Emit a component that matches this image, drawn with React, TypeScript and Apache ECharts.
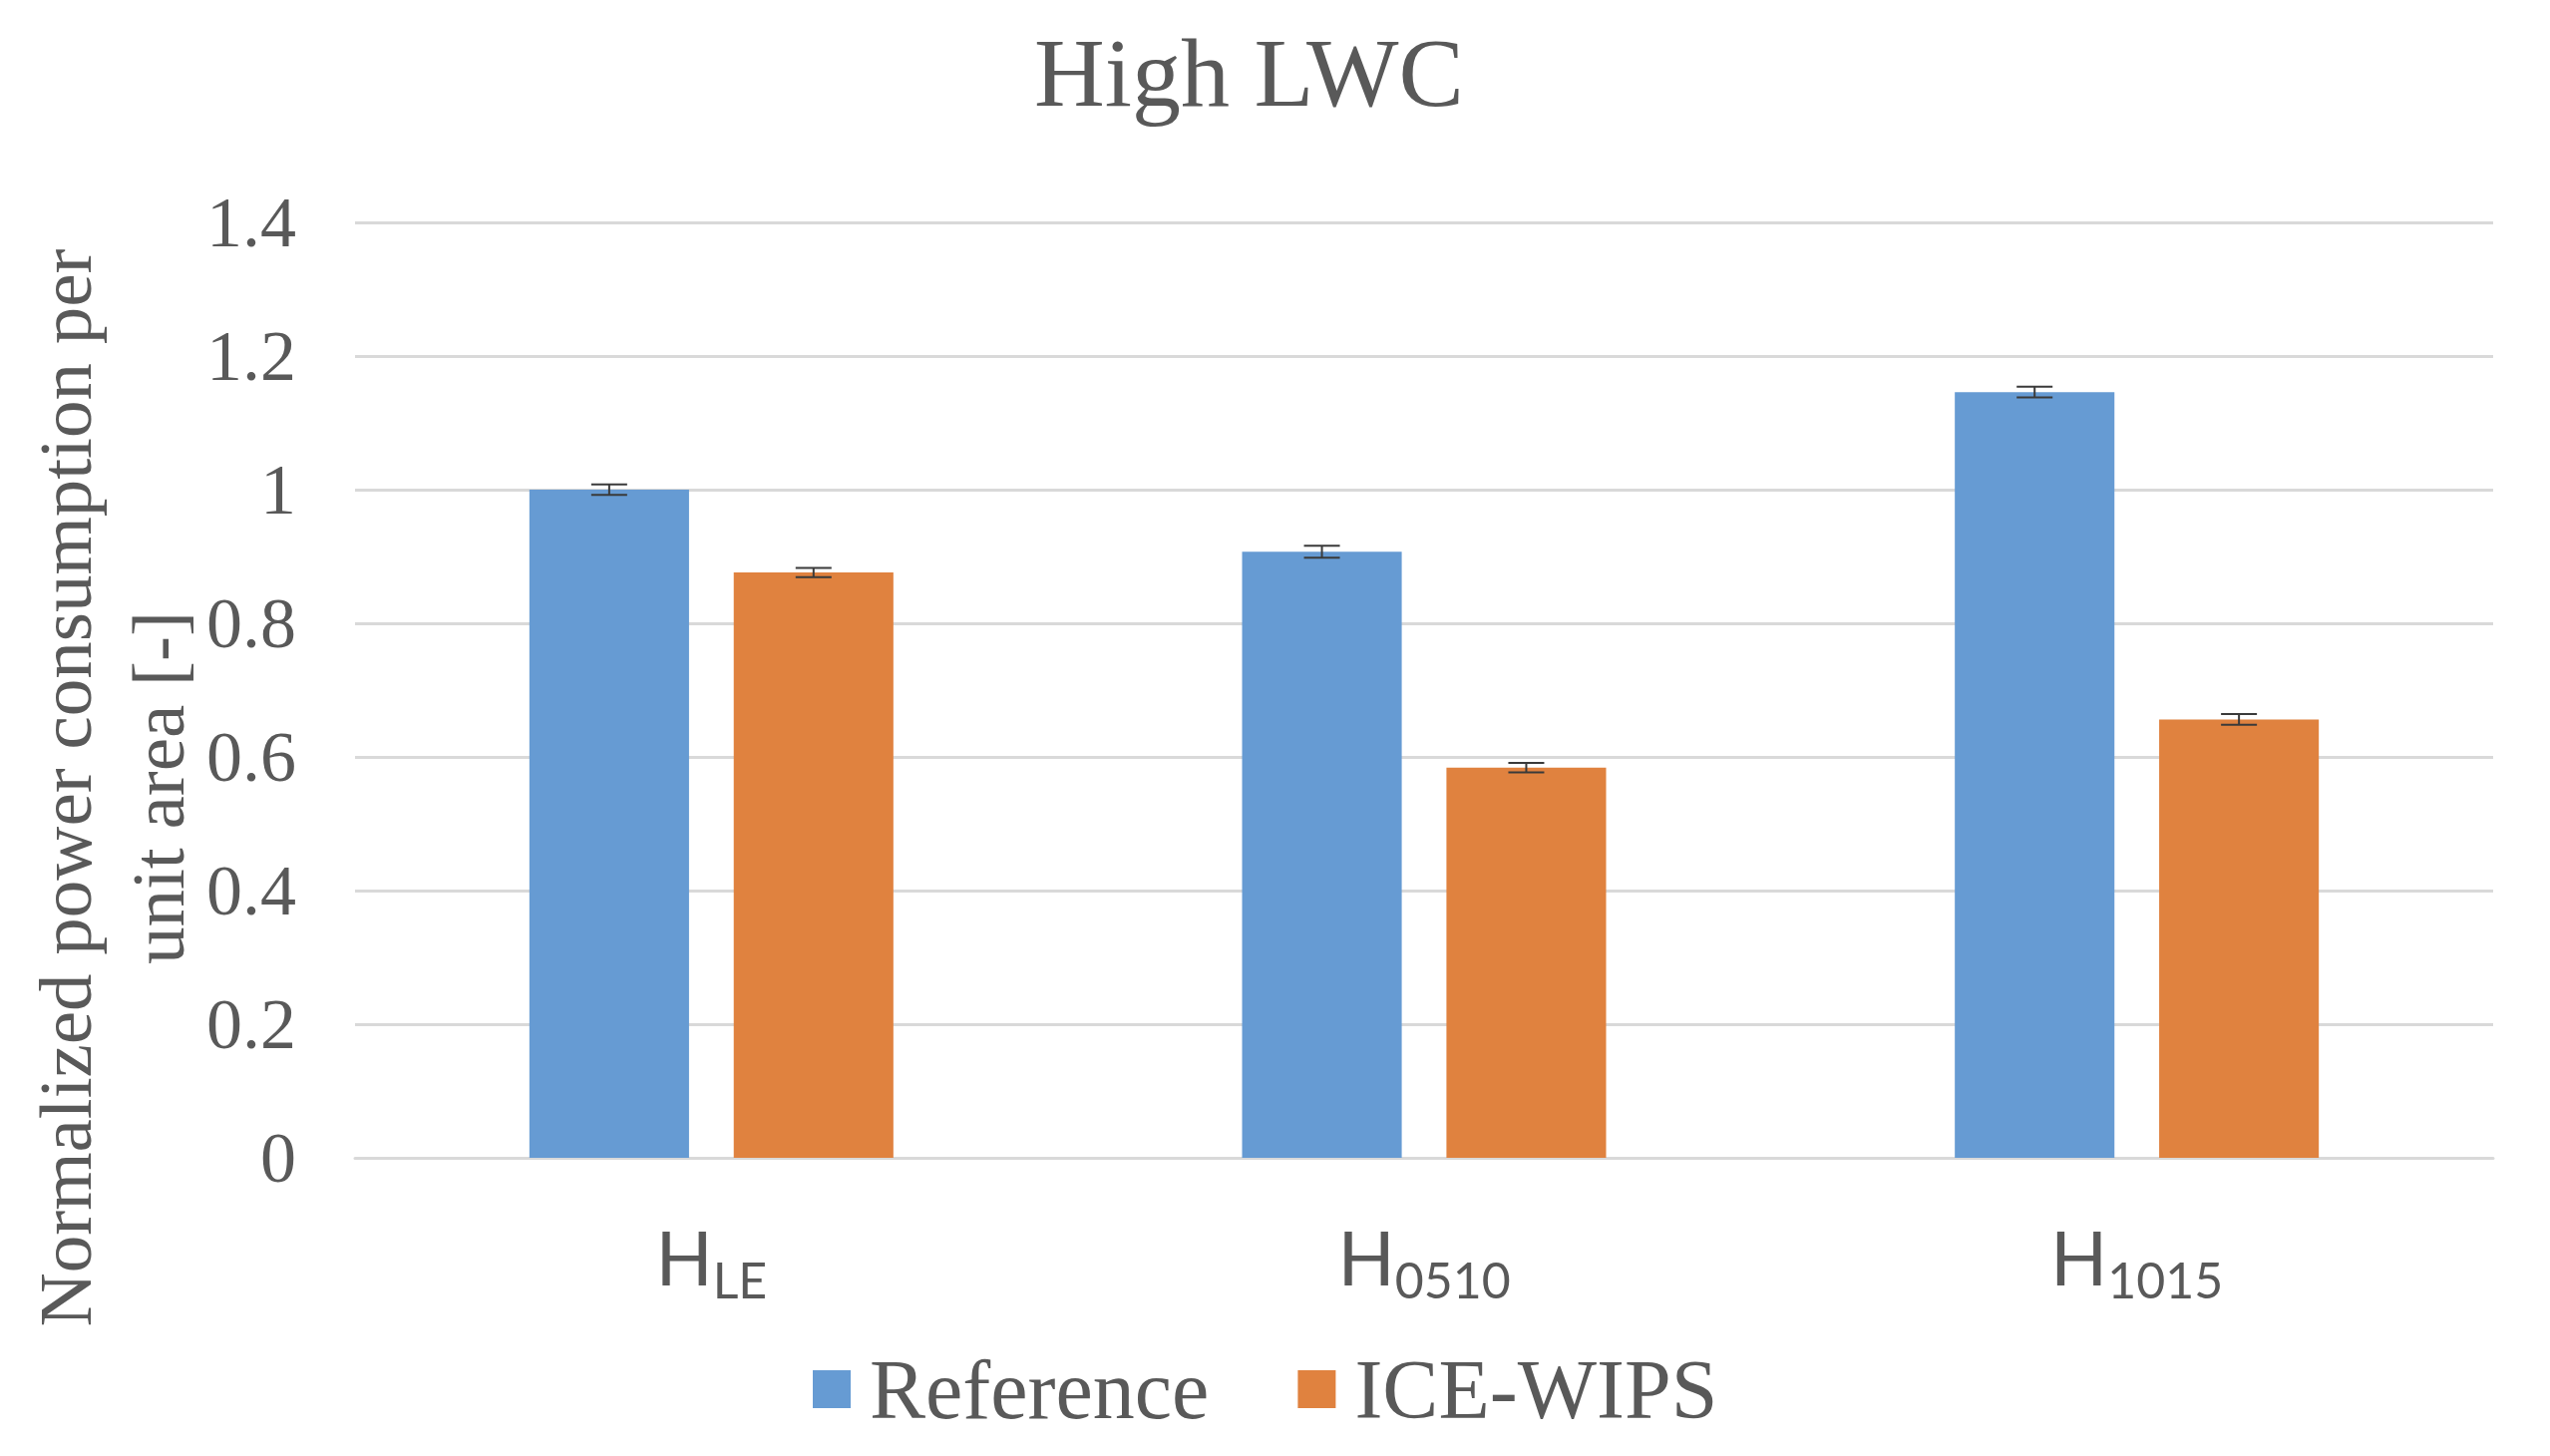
import React, { useEffect, useRef } from 'react';
import * as echarts from 'echarts';

const categories = ['LE', '0510', '1015'];
const seriesNames = ['Reference', 'ICE-WIPS'];
const referenceValues = [1.0, 0.907, 1.146];
const iceWipsValues = [0.876, 0.584, 0.656];
const referenceErrors = [0.008, 0.009, 0.008];
const iceWipsErrors = [0.007, 0.007, 0.008];
const yMin = 0;
const yMax = 1.4;
const yInterval = 0.2;
const titleText = 'High LWC';
const yAxisTitle = 'Normalized power consumption per\nunit area [-]';

const BAR_WIDTH_FRACTION = 0.224;
const BAR_GAP_FRACTION = 0.28;
const SERIF = '"Liberation Serif", "Times New Roman", serif';
const SANS = 'Lato, "Open Sans", sans-serif';
const TEXT_COLOR = '#595959';

function makeErrorSeries(name: string, values: number[], errors: number[], side: number) {
  return {
    type: 'custom',
    name: name + ' error',
    silent: true,
    z: 10,
    encode: { x: 0, y: 1 },
    data: values.map((v, i) => [i, v, errors[i]]),
    renderItem: (params: any, api: any) => {
      const idx = api.value(0);
      const val = api.value(1);
      const err = api.value(2);
      const band = api.size([1, 0])[0];
      const offset = (side * band * BAR_WIDTH_FRACTION * (1 + BAR_GAP_FRACTION)) / 2;
      const c = api.coord([idx, val]);
      const x = c[0] + offset;
      const yTop = api.coord([idx, val + err])[1];
      const yBot = api.coord([idx, val - err])[1];
      const cap = 18;
      const style = { stroke: '#3a3a3a', lineWidth: 2 };
      return {
        type: 'group',
        children: [
          { type: 'line', shape: { x1: x, y1: yTop, x2: x, y2: yBot }, style },
          { type: 'line', shape: { x1: x - cap, y1: yTop, x2: x + cap, y2: yTop }, style },
          { type: 'line', shape: { x1: x - cap, y1: yBot, x2: x + cap, y2: yBot }, style },
        ],
      };
    },
  };
}

export default function App() {
  const ref = useRef<HTMLDivElement>(null);
  useEffect(() => {
    if (!ref.current) return;
    const chart = echarts.init(ref.current, undefined, { renderer: 'svg' });
    chart.setOption({
      animation: false,
      backgroundColor: '#ffffff',
      title: {
        text: titleText,
        left: 1037,
        top: 24,
        padding: 0,
        textStyle: { fontFamily: SERIF, fontSize: 98, fontWeight: 'normal', color: TEXT_COLOR },
      },
      legend: {
        data: seriesNames,
        left: 815,
        top: 1351,
        padding: 0,
        icon: 'rect',
        itemWidth: 38,
        itemHeight: 38,
        itemGap: 89,
        textStyle: { fontFamily: SERIF, fontSize: 84, color: TEXT_COLOR, padding: [0, 0, 0, 14] },
      },
      grid: { left: 356, right: 57, top: 223, bottom: 299, containLabel: false },
      xAxis: {
        type: 'category',
        data: categories,
        axisTick: { show: false },
        axisLine: { show: true, lineStyle: { color: '#D9D9D9', width: 3 } },
        axisLabel: {
          margin: 51,
          formatter: (v: string) => `{h|H}{s|${v}}`,
          rich: {
            h: { fontFamily: SANS, fontSize: 75, color: TEXT_COLOR, lineHeight: 84 },
            s: { fontFamily: SANS, fontSize: 50, color: TEXT_COLOR, padding: [46, 0, 0, 0] },
          },
        },
      },
      yAxis: {
        type: 'value',
        min: yMin,
        max: yMax,
        interval: yInterval,
        axisLine: { show: false },
        axisTick: { show: false },
        splitLine: { show: true, lineStyle: { color: '#D9D9D9', width: 3 } },
        axisLabel: { margin: 59, fontFamily: SERIF, fontSize: 72, color: TEXT_COLOR },
      },
      graphic: [
        {
          type: 'text',
          x: 112,
          y: 790,
          rotation: Math.PI / 2,
          style: {
            text: yAxisTitle,
            fontFamily: SERIF,
            fontSize: 75,
            lineHeight: 93,
            fill: TEXT_COLOR,
            align: 'center',
            verticalAlign: 'middle',
          },
        },
      ],
      series: [
        {
          name: seriesNames[0],
          type: 'bar',
          data: referenceValues,
          barWidth: BAR_WIDTH_FRACTION * 100 + '%',
          barGap: BAR_GAP_FRACTION * 100 + '%',
          itemStyle: { color: '#669BD3' },
        },
        {
          name: seriesNames[1],
          type: 'bar',
          data: iceWipsValues,
          barWidth: BAR_WIDTH_FRACTION * 100 + '%',
          barGap: BAR_GAP_FRACTION * 100 + '%',
          itemStyle: { color: '#E0823F' },
        },
        makeErrorSeries(seriesNames[0], referenceValues, referenceErrors, -1),
        makeErrorSeries(seriesNames[1], iceWipsValues, iceWipsErrors, 1),
      ],
    });
    return () => chart.dispose();
  }, []);
  return (
    <div
      ref={ref}
      style={{ position: 'absolute', left: 0, top: 0, width: 2557, height: 1460, background: '#fff' }}
    />
  );
}
